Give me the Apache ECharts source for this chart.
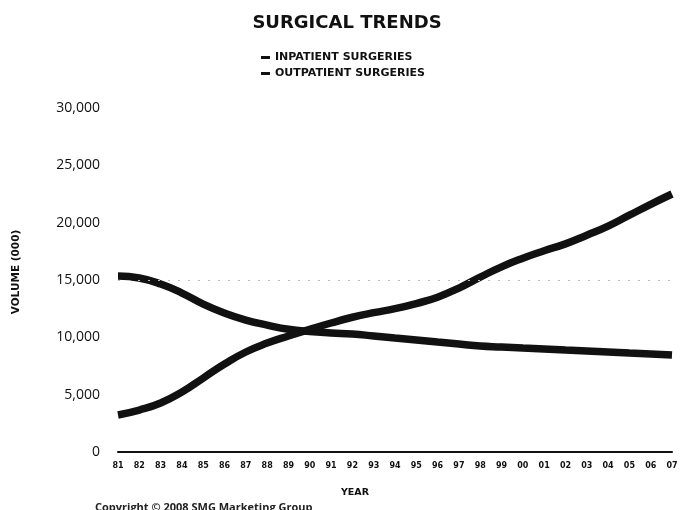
<!DOCTYPE html>
<html>
<head>
<meta charset="utf-8">
<script src="https://cdn.jsdelivr.net/npm/echarts@6/dist/echarts.min.js"></script>
<style>
    html, body {margin: 0; padding: 0; background: #fff;}
    #chart {width: 694px; height: 510px;}
</style>
</head>
<body>
<div id="chart"></div>
<script>
// 年份
var years = ['81', '82', '83', '84', '85', '86', '87', '88', '89', '90', '91', '92', '93', '94',
    '95', '96', '97', '98', '99', '00', '01', '02', '03', '04', '05', '06', '07'];
// 住院手术量 (000)
var inpatient = [15350, 15170, 14650, 13860, 12900, 12120, 11510, 11070, 10700, 10500, 10380, 10290,
    10120, 9940, 9770, 9590, 9420, 9240, 9160, 9070, 8980, 8890, 8810, 8720, 8630, 8550, 8460];
// 门诊手术量 (000)
var outpatient = [3230, 3660, 4270, 5230, 6450, 7670, 8720, 9500, 10120, 10700, 11250, 11750,
    12150, 12500, 12950, 13500, 14300, 15250, 16150, 16900, 17550, 18150, 18900, 19700, 20650, 21600, 22500];
var yTicks = [0, 5000, 10000, 15000, 20000, 25000, 30000];

var font = 'Open Sans';
var wideFont = 'DejaVu Sans';
var myChart = echarts.init(document.getElementById('chart'));
myChart.setOption({
    animation: false,
    title: {
        text: 'SURGICAL TRENDS',
        left: 'center',
        top: 9,
        textStyle: {fontFamily: wideFont, fontSize: 18, fontWeight: 'bold', color: '#111'}
    },
    legend: {
        orient: 'vertical',
        left: 256,
        top: 47,
        itemGap: 5,
        itemWidth: 9,
        itemHeight: 3,
        icon: 'rect',
        textStyle: {fontFamily: wideFont, fontSize: 11, fontWeight: 'bold', color: '#111'},
        data: ['INPATIENT SURGERIES', 'OUTPATIENT SURGERIES']
    },
    graphic: [{
        type: 'text',
        left: 95,
        top: 502,
        style: {text: 'Copyright © 2008 SMG Marketing Group', font: 'bold 11px "Open Sans"', fill: '#222'}
    }],
    grid: {left: 118, right: 22, top: 108, bottom: 58},
    xAxis: {
        type: 'category',
        data: years,
        boundaryGap: false,
        name: 'YEAR',
        nameLocation: 'middle',
        nameGap: 36,
        nameTextStyle: {fontFamily: wideFont, fontSize: 9.5, fontWeight: 'bold', color: '#111', padding: [0, 80, 0, 0]},
        axisLine: {lineStyle: {color: '#111', width: 2}},
        axisTick: {show: false},
        axisLabel: {fontFamily: wideFont, fontSize: 8, fontWeight: 'bold', color: '#111', margin: 10, interval: 0}
    },
    yAxis: {
        type: 'value',
        min: 0,
        max: 30000,
        interval: 5000,
        name: 'VOLUME (000)',
        nameLocation: 'middle',
        nameGap: 96,
        nameTextStyle: {fontFamily: wideFont, fontSize: 10.5, fontWeight: 'bold', color: '#111', padding: [0, 0, 0, 16]},
        axisLine: {show: false},
        axisTick: {show: false},
        splitLine: {show: false},
        axisLabel: {
            fontFamily: font, fontSize: 14, color: '#111', margin: 18,
            formatter: function (v) {
                return yTicks.indexOf(v) >= 0 ? v.toLocaleString('en-US') : '';
            }
        }
    },
    series: [
        {
            name: 'INPATIENT SURGERIES',
            type: 'line',
            smooth: true,
            symbol: 'none',
            lineStyle: {color: '#111', width: 7.5},
            itemStyle: {color: '#111'},
            data: inpatient,
            markLine: {
                silent: true,
                symbol: 'none',
                label: {show: false},
                lineStyle: {color: '#bbb', type: [2, 8], width: 1},
                data: [{yAxis: 15000}]
            }
        },
        {
            name: 'OUTPATIENT SURGERIES',
            type: 'line',
            smooth: true,
            symbol: 'none',
            lineStyle: {color: '#111', width: 7.5},
            itemStyle: {color: '#111'},
            data: outpatient
        }
    ]
});
</script>
</body>
</html>
